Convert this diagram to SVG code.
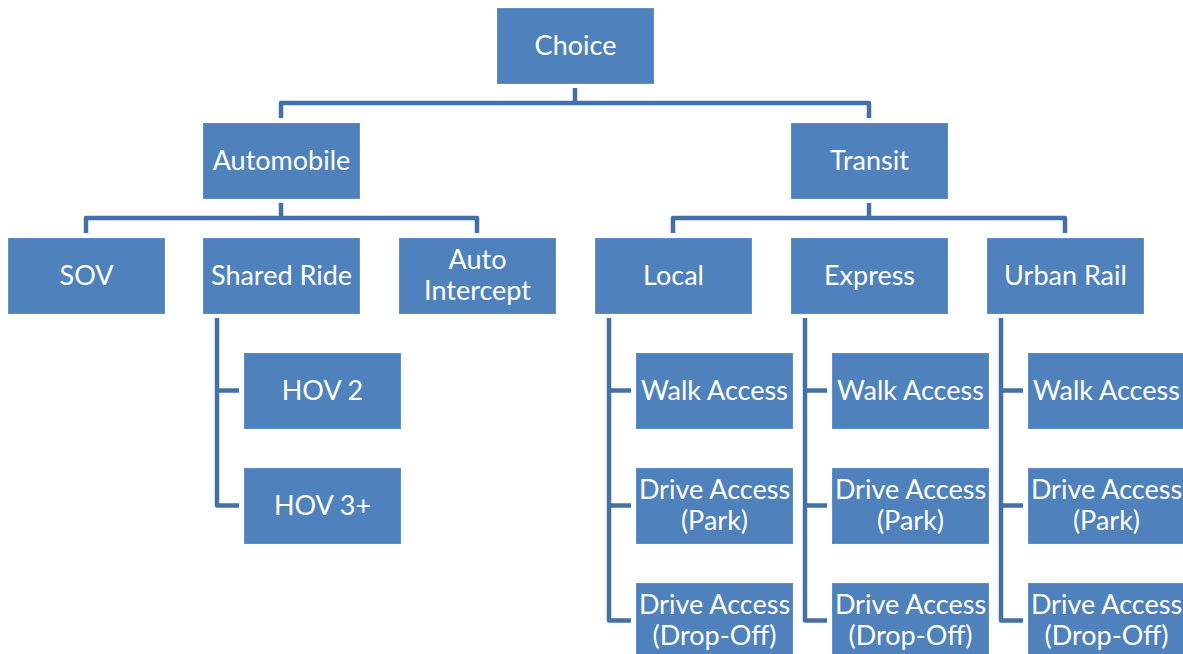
<svg xmlns="http://www.w3.org/2000/svg" width="1183" height="654" viewBox="0 0 1183 654">
<style>
.box{fill:#4F81BD;stroke:#5E8FCB;stroke-width:1}
.lbl{font-family:Lato,"Open Sans",sans-serif;font-size:27px;fill:#FFFFFF;text-anchor:middle}
.con{fill:none;stroke:#4470A8;stroke-width:4.5;stroke-linejoin:round;stroke-linecap:butt}
</style>
<rect width="1183" height="654" fill="#FFFFFF"/>
<g id="connectors">
<path class="con" d="M575,88 V103"/>
<path class="con" d="M281,118 V103 H869 V118"/>
<path class="con" d="M281,203 V218"/>
<path class="con" d="M86,233 V218 H477 V233"/>
<path class="con" d="M869,203 V218"/>
<path class="con" d="M673,233 V218 H1065 V233"/>
<path class="con" d="M217,318 V505.5 H239"/>
<path class="con" d="M217,390.5 H239"/>
<path class="con" d="M609,318 V620.5 H631"/>
<path class="con" d="M609,390.5 H631 M609,505.5 H631"/>
<path class="con" d="M805,318 V620.5 H827"/>
<path class="con" d="M805,390.5 H827 M805,505.5 H827"/>
<path class="con" d="M1001,318 V620.5 H1023"/>
<path class="con" d="M1001,390.5 H1023 M1001,505.5 H1023"/>
</g>
<g id="choice"><rect class="box" x="497.5" y="8.5" width="156" height="75"/><text class="lbl" x="575.5" y="54.5">Choice</text></g>
<g id="automobile"><rect class="box" x="203.5" y="123.5" width="156" height="75"/><text class="lbl" x="281.5" y="169.5">Automobile</text></g>
<g id="transit"><rect class="box" x="791.5" y="123.5" width="156" height="75"/><text class="lbl" x="869.5" y="169.5">Transit</text></g>
<g id="sov"><rect class="box" x="8.5" y="238.5" width="156" height="75"/><text class="lbl" x="86.5" y="284.5">SOV</text></g>
<g id="shared-ride"><rect class="box" x="203.5" y="238.5" width="156" height="75"/><text class="lbl" x="281.5" y="284.5">Shared Ride</text></g>
<g id="auto-intercept"><rect class="box" x="399.5" y="238.5" width="156" height="75"/><text class="lbl" x="477.5" y="268.5"><tspan x="477.5">Auto</tspan><tspan x="477.5" dy="31.5">Intercept</tspan></text></g>
<g id="local"><rect class="box" x="595.5" y="238.5" width="156" height="75"/><text class="lbl" x="673.5" y="284.5">Local</text></g>
<g id="express"><rect class="box" x="791.5" y="238.5" width="156" height="75"/><text class="lbl" x="869.5" y="284.5">Express</text></g>
<g id="urban-rail"><rect class="box" x="987.5" y="238.5" width="156" height="75"/><text class="lbl" x="1065.5" y="284.5">Urban Rail</text></g>
<g id="hov2"><rect class="box" x="244.5" y="353.5" width="156" height="75"/><text class="lbl" x="322.5" y="399.5">HOV 2</text></g>
<g id="hov3"><rect class="box" x="244.5" y="468.5" width="156" height="75"/><text class="lbl" x="322.5" y="514.5">HOV 3+</text></g>
<g id="local-walk"><rect class="box" x="636.5" y="353.5" width="156" height="75"/><text class="lbl" x="714.5" y="399.5">Walk Access</text></g>
<g id="local-park"><rect class="box" x="636.5" y="468.5" width="156" height="75"/><text class="lbl" x="714.5" y="498.5"><tspan x="714.5">Drive Access</tspan><tspan x="714.5" dy="31.5">(Park)</tspan></text></g>
<g id="local-drop"><rect class="box" x="636.5" y="583.5" width="156" height="75"/><text class="lbl" x="714.5" y="613.5"><tspan x="714.5">Drive Access</tspan><tspan x="714.5" dy="31.5">(Drop-Off)</tspan></text></g>
<g id="express-walk"><rect class="box" x="832.5" y="353.5" width="156" height="75"/><text class="lbl" x="910.5" y="399.5">Walk Access</text></g>
<g id="express-park"><rect class="box" x="832.5" y="468.5" width="156" height="75"/><text class="lbl" x="910.5" y="498.5"><tspan x="910.5">Drive Access</tspan><tspan x="910.5" dy="31.5">(Park)</tspan></text></g>
<g id="express-drop"><rect class="box" x="832.5" y="583.5" width="156" height="75"/><text class="lbl" x="910.5" y="613.5"><tspan x="910.5">Drive Access</tspan><tspan x="910.5" dy="31.5">(Drop-Off)</tspan></text></g>
<g id="rail-walk"><rect class="box" x="1028.5" y="353.5" width="156" height="75"/><text class="lbl" x="1106.5" y="399.5">Walk Access</text></g>
<g id="rail-park"><rect class="box" x="1028.5" y="468.5" width="156" height="75"/><text class="lbl" x="1106.5" y="498.5"><tspan x="1106.5">Drive Access</tspan><tspan x="1106.5" dy="31.5">(Park)</tspan></text></g>
<g id="rail-drop"><rect class="box" x="1028.5" y="583.5" width="156" height="75"/><text class="lbl" x="1106.5" y="613.5"><tspan x="1106.5">Drive Access</tspan><tspan x="1106.5" dy="31.5">(Drop-Off)</tspan></text></g>
</svg>
